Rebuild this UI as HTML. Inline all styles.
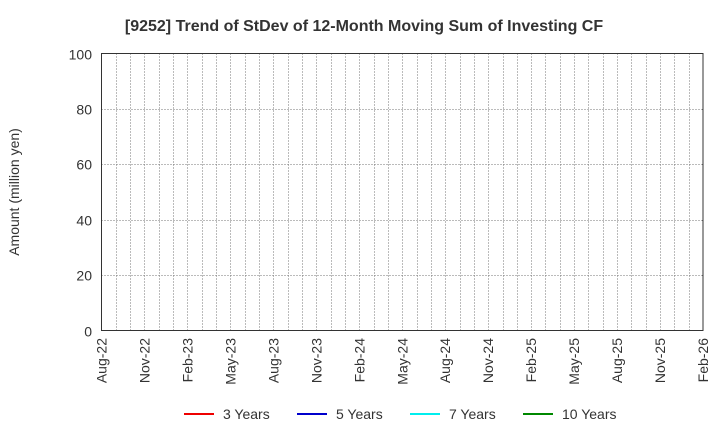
<!DOCTYPE html>
<html><head><meta charset="utf-8"><style>
body{margin:0;background:#fff;font-family:"Liberation Sans",Arial,sans-serif}
</style></head><body>
<svg width="720" height="440" xmlns="http://www.w3.org/2000/svg" font-family="Liberation Sans, Arial, sans-serif">
<rect width="720" height="440" fill="#fff"/>
<text x="364" y="31" text-anchor="middle" font-size="16" font-weight="bold" fill="#333">[9252]  Trend of StDev of 12-Month Moving Sum of Investing CF</text>
<g id="grid" stroke="#777" stroke-width="1" stroke-dasharray="1,2" fill="none"></g>
<rect x="101.5" y="53.5" width="601.5" height="277" fill="none" stroke="#333" stroke-width="1"/>
<g font-size="14" fill="#333" text-anchor="end" id="ylab"></g>
<text transform="translate(19,192) rotate(-90)" text-anchor="middle" font-size="14" fill="#333">Amount (million yen)</text>
<g font-size="14" fill="#333" id="xlab"></g>
<g font-size="14" fill="#333">
<line x1="184" y1="414" x2="214" y2="414" stroke="#e00" stroke-width="2"/><text x="223" y="419">3 Years</text>
<line x1="297" y1="414" x2="327" y2="414" stroke="#00c" stroke-width="2"/><text x="336" y="419">5 Years</text>
<line x1="410" y1="414" x2="440" y2="414" stroke="#0ee" stroke-width="2"/><text x="449" y="419">7 Years</text>
<line x1="523" y1="414" x2="553" y2="414" stroke="#080" stroke-width="2"/><text x="562" y="419">10 Years</text>
</g>
<script>
var ns="http://www.w3.org/2000/svg",g=document.getElementById("grid"),yl=document.getElementById("ylab"),xl=document.getElementById("xlab");
function el(t,a,p,txt){var e=document.createElementNS(ns,t);for(var k in a)e.setAttribute(k,a[k]);if(txt)e.textContent=txt;p.appendChild(e);}
var L=101.5,R=703,T=53.5,B=330.5,dx=(R-L)/42;
for(var i=1;i<42;i++){var x=Math.round(L+i*dx)+0.5;el("line",{x1:x,y1:T,x2:x,y2:B},g);}
for(var j=0;j<=5;j++){var y=Math.round(B-j*(B-T)/5)+0.5;if(j>0&&j<5)el("line",{x1:L,y1:y,x2:R,y2:y},g);el("text",{x:92,y:y+5},yl,String(j*20));}
var labs=["Aug-22","Nov-22","Feb-23","May-23","Aug-23","Nov-23","Feb-24","May-24","Aug-24","Nov-24","Feb-25","May-25","Aug-25","Nov-25","Feb-26"];
labs.forEach(function(s,k){var x=L+k*3*dx+5;el("text",{transform:"translate("+x+",338) rotate(-90)","text-anchor":"end"},xl,s);});
</script>
</svg>
</body></html>
